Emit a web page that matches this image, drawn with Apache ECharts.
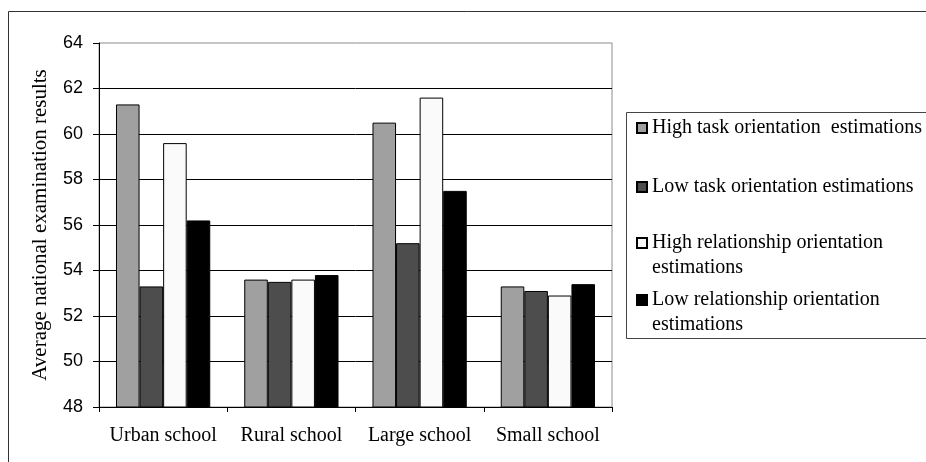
<!DOCTYPE html>
<html>
<head>
<meta charset="utf-8">
<script src="https://cdn.jsdelivr.net/npm/echarts@6/dist/echarts.min.js"></script>
<style>html,body{margin:0;padding:0;background:#fff;}#c{width:926px;height:462px;}</style>
</head>
<body>
<div id="c"></div>
<script>
const categories = ['Urban school', 'Rural school', 'Large school', 'Small school'];
const seriesNames = ['High task orientation  estimations', 'Low task orientation estimations', 'High relationship orientation estimations', 'Low relationship orientation estimations'];
const highTask = [61.3, 53.6, 60.5, 53.3];
const lowTask = [53.3, 53.5, 55.2, 53.1];
const highRel = [59.6, 53.6, 61.6, 52.9];
const lowRel = [56.2, 53.8, 57.5, 53.4];
const yTicks = [48, 50, 52, 54, 56, 58, 60, 62, 64];
const yAxisName = 'Average national examination results';

const colors = ['#a0a0a0', '#4d4d4d', '#fafafa', '#000000'];
const values = [highTask, lowTask, highRel, lowRel];
const serif = '"Liberation Serif", "Times New Roman", serif';

const chart = echarts.init(document.getElementById('c'));
const legendTops = [115.5, 174.5, 205.5, 262.5];
const legendLabels = ['High task orientation  estimations', 'Low task orientation estimations', ' \nHigh relationship orientation\nestimations', ' \nLow relationship orientation\nestimations'];
const legends = seriesNames.map((n, i) => ({
  data: [n],
  left: 636,
  top: legendTops[i],
  padding: 0,
  orient: 'vertical',
  icon: 'rect',
  itemWidth: 10,
  itemHeight: 10,
  selectedMode: false,
  formatter: () => legendLabels[i],
  textStyle: {
    fontFamily: serif,
    fontSize: 20,
    color: '#000',
    lineHeight: 25
  }
}));

chart.setOption({
  animation: false,
  backgroundColor: '#fff',
  graphic: [
    { type: 'rect', shape: { x: 8.5, y: 11.5, width: 1000, height: 1000 }, style: { fill: 'none', stroke: '#333', lineWidth: 1 }, silent: true, z: -1 },
    { type: 'rect', shape: { x: 626.5, y: 112.5, width: 400, height: 226 }, style: { fill: 'none', stroke: '#444', lineWidth: 1 }, silent: true }
  ],
  legend: legends,
  grid: { left: 99, top: 43, right: 314, bottom: 55, show: true, borderColor: '#8c8c8c', borderWidth: 1 },
  xAxis: {
    type: 'category',
    data: categories,
    axisLine: { lineStyle: { color: '#000', width: 1 } },
    axisTick: { show: true, interval: 0, length: 5, lineStyle: { color: '#000' } },
    axisLabel: { interval: 0, fontFamily: serif, fontSize: 20, color: '#000', margin: 19 }
  },
  yAxis: {
    type: 'value',
    min: yTicks[0],
    max: yTicks[yTicks.length - 1],
    interval: 2,
    name: yAxisName,
    nameLocation: 'middle',
    nameGap: 48,
    nameTextStyle: { fontFamily: serif, fontSize: 21, color: '#000', width: 310, overflow: 'truncate', ellipsis: '' },
    axisLine: { show: true, lineStyle: { color: '#000', width: 1 } },
    axisTick: { show: true, length: 6, lineStyle: { color: '#000' } },
    axisLabel: { fontFamily: '"Liberation Sans", Arial, sans-serif', fontSize: 18, color: '#000', margin: 16 },
    splitLine: { show: true, showMaxLine: false, lineStyle: { color: '#000', width: 1 } }
  },
  series: seriesNames.map((n, i) => ({
    name: n,
    type: 'bar',
    data: values[i],
    barGap: '0%',
    barCategoryGap: '26.5%',
    itemStyle: { color: colors[i], borderColor: '#000', borderWidth: 1 }
  }))
});
</script>
</body>
</html>
